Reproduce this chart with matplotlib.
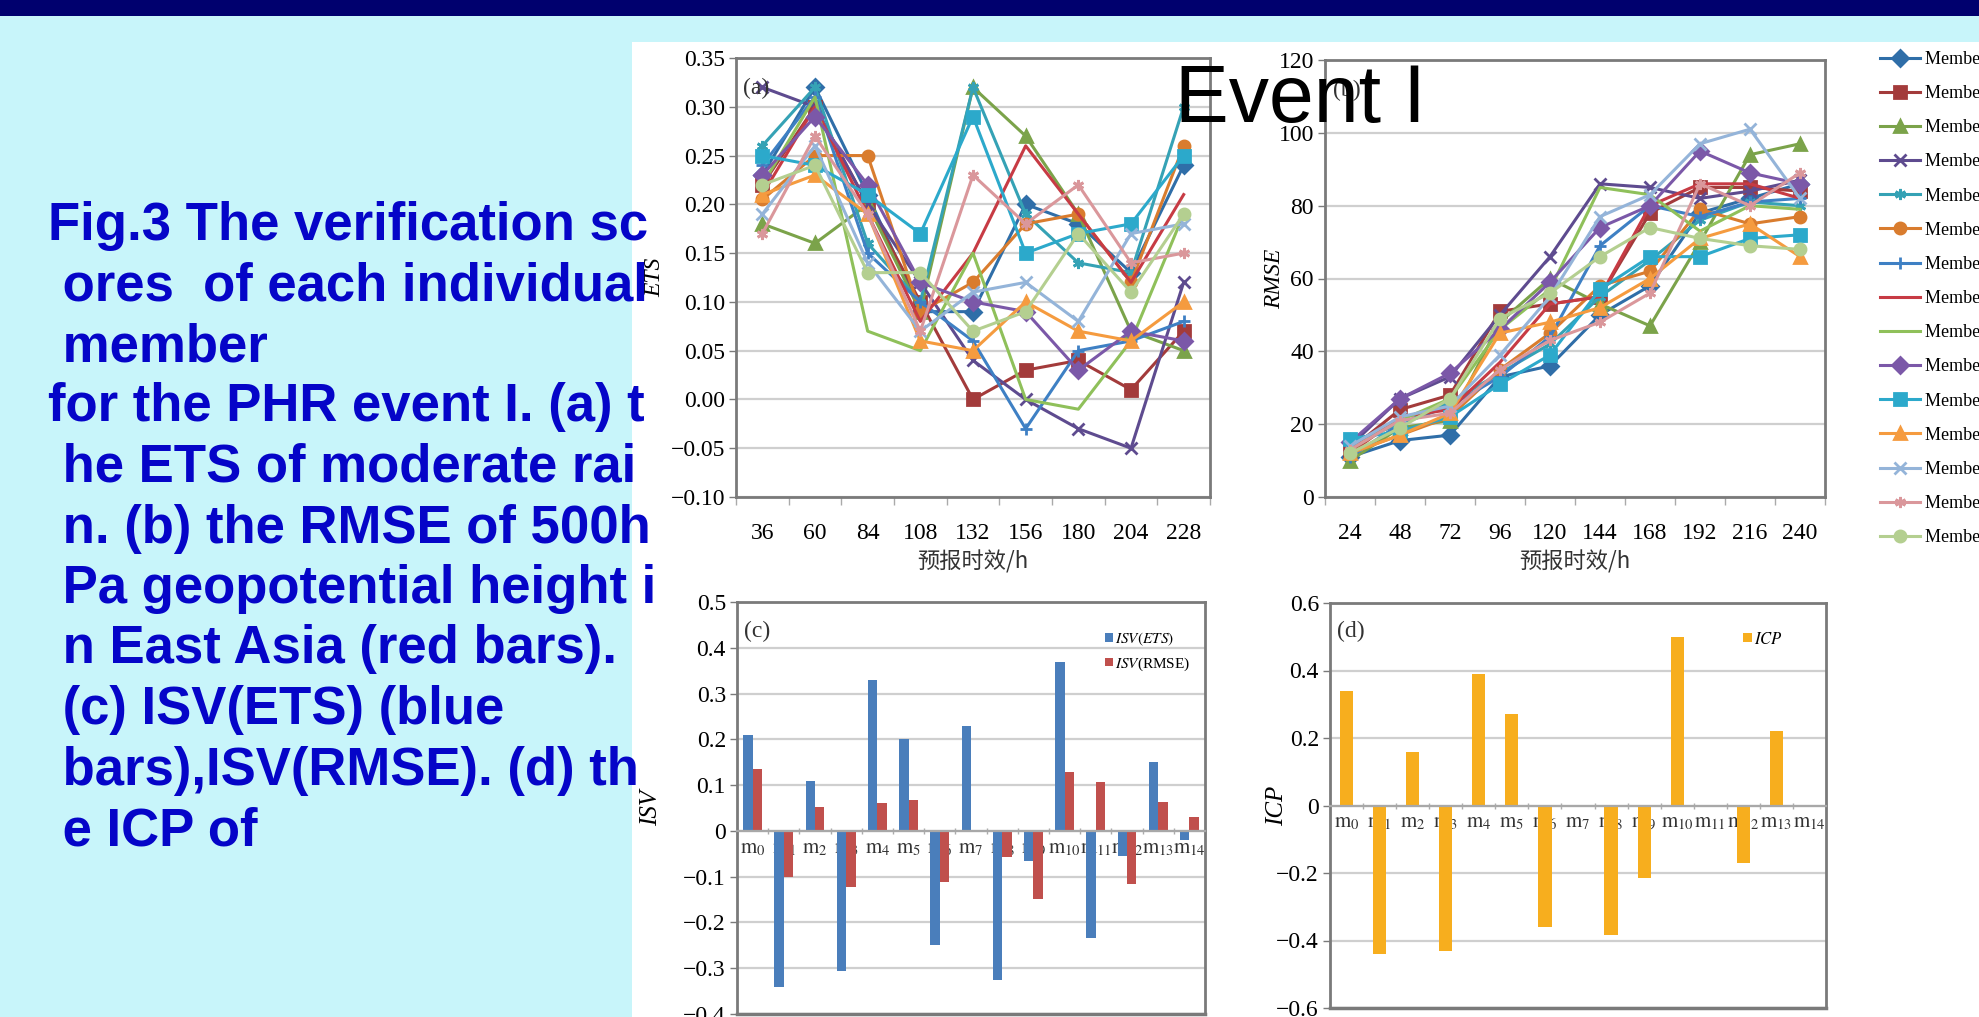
import numpy as np
import matplotlib
matplotlib.use("Agg")
import matplotlib.pyplot as plt
from matplotlib.patches import Rectangle
from matplotlib.lines import Line2D
from matplotlib.ticker import FuncFormatter

plt.rcParams["mathtext.fontset"] = "stix"

# ---- data -------------------------------------------------------------
members = ["Member %d" % i for i in range(15)]
ets_hours = [36, 60, 84, 108, 132, 156, 180, 204, 228]
rmse_hours = [24, 48, 72, 96, 120, 144, 168, 192, 216, 240]

ets = [
    [0.23, 0.32, 0.21, 0.09, 0.09, 0.20, 0.18, 0.13, 0.24],
    [0.22, 0.30, 0.20, 0.10, 0.00, 0.03, 0.04, 0.01, 0.07],
    [0.18, 0.16, 0.20, 0.09, 0.32, 0.27, 0.19, 0.07, 0.05],
    [0.32, 0.30, 0.20, 0.12, 0.04, 0.00, -0.03, -0.05, 0.12],
    [0.26, 0.32, 0.16, 0.10, 0.32, 0.19, 0.14, 0.13, 0.30],
    [0.205, 0.25, 0.25, 0.09, 0.12, 0.18, 0.19, 0.12, 0.26],
    [0.24, 0.31, 0.15, 0.10, 0.06, -0.03, 0.05, 0.06, 0.08],
    [0.21, 0.30, 0.19, 0.08, 0.15, 0.26, 0.19, 0.12, 0.21],
    [0.22, 0.31, 0.07, 0.05, 0.15, 0.00, -0.01, 0.06, 0.19],
    [0.23, 0.29, 0.22, 0.12, 0.10, 0.09, 0.03, 0.07, 0.06],
    [0.25, 0.24, 0.21, 0.17, 0.29, 0.15, 0.17, 0.18, 0.25],
    [0.21, 0.23, 0.19, 0.06, 0.05, 0.10, 0.07, 0.06, 0.10],
    [0.19, 0.26, 0.14, 0.07, 0.11, 0.12, 0.08, 0.17, 0.18],
    [0.17, 0.27, 0.19, 0.07, 0.23, 0.18, 0.22, 0.14, 0.15],
    [0.22, 0.24, 0.13, 0.13, 0.07, 0.09, 0.17, 0.11, 0.19],
]

rmse = [
    [11, 15.5, 17, 33, 36, 50, 58, 78, 82, 86],
    [13, 24, 28, 51, 53, 55, 78, 85, 85, 84],
    [10, 19, 21, 48, 60, 53, 47, 70, 94, 97],
    [14, 27, 33, 50, 66, 86, 85, 82, 84, 87],
    [15, 20, 26, 34, 42, 55, 65, 76, 81, 80],
    [12, 17, 22, 35, 45, 58, 62, 79, 75, 77],
    [11, 20, 25, 33, 44, 69, 80, 77, 81, 82],
    [12, 22, 24, 37, 53, 55, 80, 86, 86, 82],
    [13, 21, 27, 46, 57, 85, 83, 73, 80, 79],
    [15, 27, 34, 46, 59, 74, 80, 95, 89, 86],
    [16, 18, 22, 31, 39, 57, 66, 66, 71, 72],
    [12, 17, 23, 45, 48, 52, 60, 71, 75, 66],
    [14, 22, 25, 39, 55, 77, 83, 97, 101, 82],
    [13, 21, 23, 35, 43, 48, 56, 86, 80, 89],
    [12, 19, 27, 49, 56, 66, 74, 71, 69, 68],
]

isv_ets = [0.21, -0.34, 0.11, -0.305, 0.33, 0.20, -0.25, 0.23, -0.325,
           -0.065, 0.37, -0.235, -0.055, 0.15, -0.02]
isv_rmse = [0.135, -0.10, 0.052, -0.122, 0.06, 0.068, -0.112, -0.002,
            -0.058, -0.148, 0.128, 0.107, -0.117, 0.063, 0.031]
icp = [0.34, -0.44, 0.16, -0.43, 0.39, 0.27, -0.36, 0.0, -0.385,
       -0.215, 0.50, 0.0, -0.17, 0.22, 0.0]
m_labels = [r"$\mathrm{m}_{%d}$" % i for i in range(15)]

caption = [
    "Fig.3 The verification sc",
    " ores  of each individual",
    " member",
    "for the PHR event I. (a) t",
    " he ETS of moderate rai",
    " n. (b) the RMSE of 500h",
    " Pa geopotential height i",
    " n East Asia (red bars).",
    " (c) ISV(ETS) (blue",
    " bars),ISV(RMSE). (d) th",
    " e ICP of",
]

# ---- styles -----------------------------------------------------------
colors = ["#2F6EA8", "#A33B3B", "#7BA34A", "#5E4B8F", "#35A2B5", "#D97C2E",
          "#3E80C4", "#C73B44", "#8FC05A", "#7B58A8", "#2CA9CB", "#F59B3F",
          "#94B4D9", "#DA979B", "#B4CF90"]
star = (6, 2, 0)
markers = ["D", "s", "^", "x", star, "o", "+", None, None,
           "D", "s", "^", "x", star, "o"]
serif = "Liberation Serif"
frame_c = "#7a7a7a"
grid_c = "#cfcfcf"

W, H = 1979, 1017
fig = plt.figure(figsize=(W / 100, H / 100), dpi=100)
fig.patch.set_facecolor("#c8f5fa")
fig.patches.append(Rectangle((0, 1 - 16 / H), 1, 16 / H, transform=fig.transFigure,
                             facecolor="#00006e", edgecolor="none", zorder=-10))
fig.patches.append(Rectangle((632 / W, 0), 1 - 632 / W, 1 - 42 / H,
                             transform=fig.transFigure, facecolor="white",
                             edgecolor="none", zorder=-10))


def box(left, top, right, bottom):
    return [left / W, 1 - bottom / H, (right - left) / W, (bottom - top) / H]


def fmt(nd, zero):
    def f(v, pos):
        if abs(v) < 1e-9:
            return zero
        s = ("%." + str(nd) + "f") % abs(v)
        return ("\u2212" + s) if v < 0 else s
    return FuncFormatter(f)


def style_axes(ax):
    for sp in ax.spines.values():
        sp.set_color(frame_c)
        sp.set_linewidth(2)
    ax.set_facecolor("white")
    ax.grid(axis="y", color=grid_c, lw=1.6)
    ax.set_axisbelow(True)
    ax.tick_params(axis="y", labelsize=17, length=5, width=1, color=frame_c,
                   pad=3, labelfontfamily=serif)


def line_panel(ax, hours, values, ylim, step, yfmt, ylabel, tag, label_x):
    x = np.arange(len(hours))
    for i in range(15):
        ax.plot(x, values[i], color=colors[i], marker=markers[i], lw=2.2,
                ms=8, mew=2, label=members[i])
    ax.set_xlim(-0.5, len(hours) - 0.5)
    ax.set_ylim(*ylim)
    ax.set_yticks(np.arange(ylim[0], ylim[1] + step / 2, step))
    ax.yaxis.set_major_formatter(yfmt)
    ax.set_xticks(x)
    ax.set_xticklabels([str(h) for h in hours], fontfamily=serif, fontsize=17)
    ax.set_xticks(np.arange(-0.5, len(hours)), minor=True)
    ax.tick_params(axis="x", which="major", length=0, pad=19)
    ax.tick_params(axis="x", which="minor", length=6, width=1, color="#aaaaaa")
    style_axes(ax)
    ax.set_xlabel("预报时效/h", fontfamily="Noto Sans CJK SC", fontsize=16,
                  color="#333333", labelpad=4)
    ax.set_ylabel(ylabel, fontfamily=serif, style="italic", fontsize=17)
    ax.yaxis.set_label_coords(label_x, 0.5)
    ax.text(0.015, 0.955, tag, transform=ax.transAxes, fontfamily=serif,
            fontsize=17, va="top", color="#333333")


def bar_axes(ax, ylim, step, ylabel, tag, label_x):
    ax.set_xlim(-0.5, 14.5)
    ax.set_ylim(*ylim)
    ax.set_yticks(np.arange(ylim[0], ylim[1] + step / 2, step))
    ax.yaxis.set_major_formatter(fmt(1, "0"))
    ax.spines["bottom"].set_position(("data", 0))
    ax.set_xticks(np.arange(15))
    ax.set_xticklabels(m_labels, fontsize=15, color="#333333")
    ax.set_xticks(np.arange(-0.5, 15), minor=True)
    ax.tick_params(axis="x", which="major", length=0, pad=5)
    ax.tick_params(axis="x", which="minor", length=5, width=1,
                   color="#aaaaaa", direction="inout")
    style_axes(ax)
    ax.spines["bottom"].set_color("#a8a8a8")
    ax.spines["bottom"].set_linewidth(1.6)
    ax.add_line(Line2D([0, 1], [0, 0], transform=ax.transAxes, color=frame_c,
                       lw=2.5, clip_on=False))
    ax.set_ylabel(ylabel, fontfamily=serif, style="italic", fontsize=18)
    ax.yaxis.set_label_coords(label_x, 0.5)
    ax.text(0.015, 0.955, tag, transform=ax.transAxes, fontfamily=serif,
            fontsize=17, va="top", color="#333333")


# (a) ETS
ax_a = fig.add_axes(box(736, 58, 1210, 497))
line_panel(ax_a, ets_hours, ets, (-0.10, 0.35), 0.05, fmt(2, "0.00"), "ETS", "(a)", -0.15)

# (b) RMSE
ax_b = fig.add_axes(box(1325, 60, 1825, 497))
line_panel(ax_b, rmse_hours, rmse, (0, 120), 20, fmt(0, "0"), "RMSE", "(b)", -0.08)

handles, labels = ax_a.get_legend_handles_labels()
fig.legend(handles, labels, loc="upper left", bbox_to_anchor=(1880 / W, 1 - 51 / H),
           frameon=False, prop={"family": serif, "size": 13}, handlelength=2.2,
           handletextpad=0.3, labelspacing=0.95, borderpad=0, borderaxespad=0)

# (c) ISV
ax_c = fig.add_axes(box(737, 602, 1205, 1014))
xc = np.arange(15)
ax_c.bar(xc - 0.15, isv_ets, width=0.3, color="#4a7ebb", label=r"$\mathit{ISV(ETS)}$")
ax_c.bar(xc + 0.15, isv_rmse, width=0.3, color="#c0504d", label=r"$\mathit{ISV}$(RMSE)")
bar_axes(ax_c, (-0.4, 0.5), 0.1, "ISV", "(c)", -0.16)
ax_c.legend(loc="upper right", bbox_to_anchor=(0.985, 0.95), frameon=False,
            prop={"family": serif, "size": 11}, handlelength=0.5, handleheight=0.5,
            handletextpad=0.15, labelspacing=0.5, borderpad=0)

# (d) ICP
ax_d = fig.add_axes(box(1330, 603, 1826, 1008))
ax_d.bar(xc, icp, width=0.4, color="#f7ae1e", label=r"$\mathit{ICP}$")
bar_axes(ax_d, (-0.6, 0.6), 0.2, "ICP", "(d)", -0.085)
ax_d.legend(loc="upper right", bbox_to_anchor=(0.93, 0.95), frameon=False,
            prop={"family": serif, "size": 12}, handlelength=0.5, handleheight=0.5,
            handletextpad=0.15, borderpad=0)

# caption text over the slide
for k, line in enumerate(caption):
    fig.text(48 / W, 1 - (240 + 60.5 * k) / H, line, fontsize=38, fontweight="bold",
             family="Liberation Sans", color="#0505c8", va="baseline", zorder=10)

fig.text(1300 / W, 1 - 122 / H, "Event I", fontsize=58, family="Liberation Sans",
         color="black", ha="center", va="baseline", zorder=10)

fig.savefig("out.png", dpi=100, facecolor=fig.get_facecolor())
